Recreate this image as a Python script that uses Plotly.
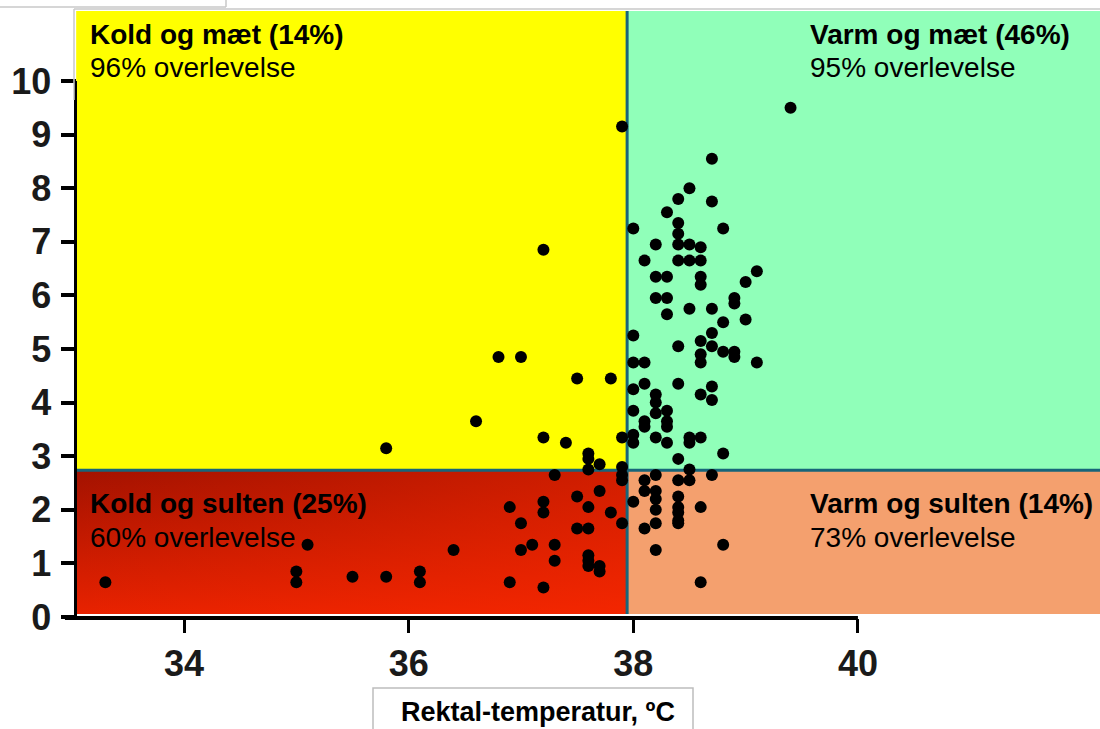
import plotly.graph_objects as go

# ---------------- data ----------------
temp_c = [
    33.3, 35.0, 35.0, 35.1, 35.5, 35.8, 35.8, 36.1, 36.1, 36.4,
    36.6, 36.8, 36.9, 36.9, 37.0, 37.0, 37.0, 37.1, 37.2, 37.2,
    37.2, 37.2, 37.2, 37.3, 37.3, 37.3, 37.4, 37.5, 37.5, 37.5,
    37.6, 37.6, 37.6, 37.6, 37.6, 37.6, 37.6, 37.6, 37.7, 37.7,
    37.7, 37.7, 37.8, 37.8, 37.9, 37.9, 37.9, 37.9, 37.9, 37.9,
    # warm
    39.4, 38.7, 38.5, 38.4, 38.7, 38.3, 38.0, 38.8, 38.4, 38.4,
    38.2, 38.4, 38.5, 38.6, 38.1, 38.4, 38.5, 38.6, 38.2, 38.3,
    38.6, 38.6, 39.1, 39.0,
    38.2, 38.3, 38.9, 38.9, 38.5, 38.7, 38.3, 39.0, 38.8, 38.0,
    38.7, 38.6, 38.7, 38.4, 38.8, 38.9, 38.9, 38.6, 38.6, 39.1,
    38.0, 38.1, 38.0, 38.1, 38.4, 38.7, 38.7, 38.6, 38.2, 38.2,
    38.0, 38.3, 38.2, 38.1, 38.1, 38.3, 38.3, 38.0, 38.0, 38.2,
    38.3, 38.5, 38.5, 38.6, 38.4, 38.8,
    38.2, 38.5, 38.7, 38.4, 38.5, 38.1, 38.1, 38.2, 38.2, 38.2,
    38.2, 38.4, 38.4, 38.4, 38.4, 38.4, 38.0, 38.6, 38.1, 38.2,
    38.8, 38.6,
]
score = [
    0.65, 0.85, 0.65, 1.35, 0.75, 0.75, 3.15, 0.85, 0.65, 1.25,
    3.65, 4.85, 2.05, 0.65, 4.85, 1.75, 1.25, 1.35, 6.85, 3.35,
    2.15, 1.95, 0.55, 2.65, 1.35, 1.05, 3.25, 4.45, 2.25, 1.65,
    3.05, 2.95, 2.75, 2.05, 1.65, 1.15, 1.05, 0.95, 2.85, 2.35,
    0.95, 0.85, 4.45, 1.95, 9.15, 3.35, 2.80, 2.65, 2.55, 1.75,
    # warm
    9.50, 8.55, 8.00, 7.80, 7.75, 7.55, 7.25, 7.25, 7.35, 7.15,
    6.95, 6.95, 6.95, 6.90, 6.65, 6.65, 6.65, 6.65, 6.35, 6.35,
    6.35, 6.20, 6.45, 6.25,
    5.95, 5.95, 5.95, 5.85, 5.75, 5.75, 5.65, 5.55, 5.50, 5.25,
    5.30, 5.15, 5.05, 5.05, 4.95, 4.95, 4.85, 4.90, 4.75, 4.75,
    4.75, 4.75, 4.25, 4.35, 4.35, 4.30, 4.05, 4.15, 4.15, 4.00,
    3.85, 3.85, 3.80, 3.65, 3.55, 3.65, 3.55, 3.40, 3.25, 3.35,
    3.25, 3.35, 3.25, 3.35, 2.95, 3.05,
    2.65, 2.75, 2.65, 2.55, 2.55, 2.55, 2.35, 2.35, 2.20, 2.00,
    1.75, 2.25, 2.05, 1.95, 1.80, 1.75, 2.15, 2.05, 1.65, 1.25,
    1.35, 0.65,
]

cold_threshold = 37.945     # vertical split, degC
hunger_threshold = 2.74     # horizontal split

x_ticks = [34, 36, 38, 40]
y_ticks = [0, 1, 2, 3, 4, 5, 6, 7, 8, 9, 10]

quadrant_titles = ["Kold og mæt (14%)", "Varm og mæt (46%)",
                   "Kold og sulten (25%)", "Varm og sulten (14%)"]
quadrant_subtitles = ["96% overlevelse", "95% overlevelse",
                      "60% overlevelse", "73% overlevelse"]
x_title = "Rektal-temperatur, ºC"

# ---------------- layout geometry ----------------
W, H = 1100, 729
ML, MR, MT, MB = 60, 0, 11, 111
PW, PH = W - ML - MR, H - MT - MB
XMIN, XMAX = 32.896, 42.155
YMIN, YMAX = -0.0187, 11.306
X_LEFT = 33.04      # left edge of coloured quadrants
Y_BOT = 0.056       # bottom edge of coloured quadrants

FONT = "Liberation Sans, Arial, sans-serif"


def pxx(px):
    return (px - ML) / PW


def pxy(py):
    return (H - MB - py) / PH


fig = go.Figure()

# red quadrant with diagonal-ish gradient (vertical base + horizontal overlay)
rx = [X_LEFT, cold_threshold, cold_threshold, X_LEFT, X_LEFT]
ry = [Y_BOT, Y_BOT, hunger_threshold, hunger_threshold, Y_BOT]
fig.add_trace(go.Scatter(
    x=rx, y=ry, mode="lines", fill="toself", line=dict(width=0),
    fillgradient=dict(type="vertical",
                      colorscale=[[0, "#E82200"], [1, "#A31200"]]),
    hoverinfo="skip", showlegend=False))
fig.add_trace(go.Scatter(
    x=rx, y=ry, mode="lines", fill="toself", line=dict(width=0),
    fillgradient=dict(type="horizontal",
                      colorscale=[[0, "rgba(255,42,0,0)"], [1, "rgba(255,42,0,0.5)"]]),
    hoverinfo="skip", showlegend=False))

# threshold lines
LINE_COL = "#17657A"
fig.add_trace(go.Scatter(x=[X_LEFT, XMAX], y=[hunger_threshold, hunger_threshold],
                         mode="lines", line=dict(color=LINE_COL, width=3),
                         hoverinfo="skip", showlegend=False))
fig.add_trace(go.Scatter(x=[cold_threshold, cold_threshold], y=[Y_BOT, YMAX],
                         mode="lines", line=dict(color=LINE_COL, width=3),
                         hoverinfo="skip", showlegend=False))

# points
fig.add_trace(go.Scatter(x=temp_c, y=score, mode="markers",
                         marker=dict(size=12, color="black"),
                         showlegend=False))

shapes = [
    dict(type="rect", xref="x", yref="y", x0=X_LEFT, x1=cold_threshold,
         y0=hunger_threshold, y1=YMAX, fillcolor="#FFFF00", line_width=0, layer="below"),
    dict(type="rect", xref="x", yref="y", x0=cold_threshold, x1=XMAX,
         y0=hunger_threshold, y1=YMAX, fillcolor="#90FFB9", line_width=0, layer="below"),
    dict(type="rect", xref="x", yref="y", x0=cold_threshold, x1=XMAX,
         y0=Y_BOT, y1=hunger_threshold, fillcolor="#F4A06E", line_width=0, layer="below"),
    # axis lines
    dict(type="line", xref="x", yref="paper", x0=32.94, x1=40.0, y0=0, y1=0,
         line=dict(color="black", width=4), layer="above"),
    dict(type="line", xref="x", yref="y", x0=33.034, x1=33.034, y0=YMIN, y1=10,
         line=dict(color="black", width=3), layer="above"),
    # slide frame artefacts
    dict(type="line", xref="paper", yref="paper", x0=pxx(0), x1=pxx(226),
         y0=pxy(7), y1=pxy(7), line=dict(color="#C8C8C8", width=1.5)),
    dict(type="line", xref="paper", yref="paper", x0=pxx(226), x1=pxx(226),
         y0=pxy(0), y1=pxy(7), line=dict(color="#C8C8C8", width=1.5)),
    dict(type="line", xref="paper", yref="paper", x0=pxx(74), x1=pxx(1100),
         y0=pxy(9), y1=pxy(9), line=dict(color="#C8C8C8", width=1.5)),
    dict(type="line", xref="paper", yref="paper", x0=pxx(74), x1=pxx(74),
         y0=pxy(9), y1=pxy(100), line=dict(color="#C8C8C8", width=1.5)),
    # x-title box
    dict(type="rect", xref="paper", yref="paper", x0=pxx(373), x1=pxx(693),
         y0=pxy(745), y1=pxy(688), fillcolor="white",
         line=dict(color="#BDBDBD", width=1.5)),
]

annotations = []
label_pos = [(88, 34, 68), (808, 34, 68), (88, 503, 537), (808, 503, 537)]
for (px, py1, py2), t, s in zip(label_pos, quadrant_titles, quadrant_subtitles):
    annotations.append(dict(xref="paper", yref="paper", x=pxx(px), y=pxy(py1),
                            xanchor="left", yanchor="middle", showarrow=False,
                            text="<b>" + t + "</b>",
                            font=dict(family=FONT, size=28, color="black")))
    annotations.append(dict(xref="paper", yref="paper", x=pxx(px), y=pxy(py2),
                            xanchor="left", yanchor="middle", showarrow=False,
                            text=s, font=dict(family=FONT, size=28, color="black")))
annotations.append(dict(xref="paper", yref="paper", x=pxx(538), y=pxy(712),
                        xanchor="center", yanchor="middle", showarrow=False,
                        text="<b>" + x_title + "</b>",
                        font=dict(family=FONT, size=27, color="black")))

TICKFONT = dict(family=FONT, size=36, color="#1a1a1a", weight="bold")

fig.update_layout(
    width=W, height=H,
    margin=dict(l=ML, r=MR, t=MT, b=MB),
    paper_bgcolor="white", plot_bgcolor="white",
    showlegend=False,
    shapes=shapes, annotations=annotations,
    xaxis=dict(range=[XMIN, XMAX], tickvals=x_ticks, ticks="outside",
               ticklen=14, tickwidth=3, tickcolor="black",
               showgrid=False, zeroline=False, showline=False,
               ticklabelstandoff=0,
               tickfont=TICKFONT),
    yaxis=dict(range=[YMIN, YMAX], tickvals=y_ticks, ticks="outside",
               ticklen=15, tickwidth=4, tickcolor="black",
               anchor="free", position=pxx(75.5),
               showgrid=False, zeroline=False, showline=False,
               ticklabelstandoff=2,
               tickfont=TICKFONT),
)

fig.write_html("out.html")
